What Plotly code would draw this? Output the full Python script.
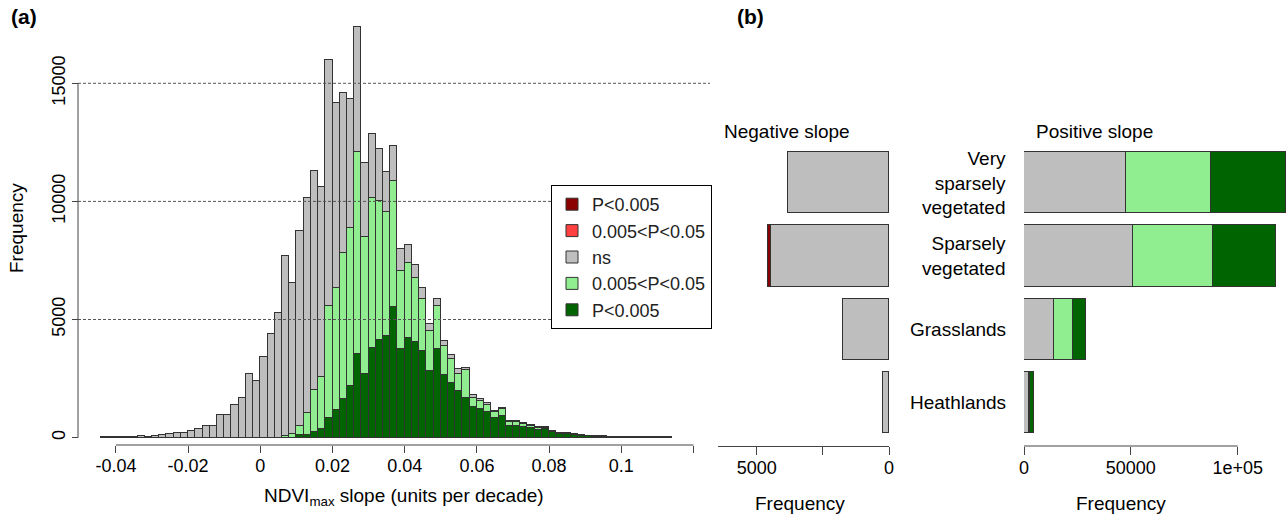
import plotly.graph_objects as go

# ---------------- data ----------------
# Panel (a): histogram of NDVImax slope, bins of 0.002 starting at -0.044
bin_start = -0.044
bin_width = 0.002
hist_ns = [15, 20, 30, 25, 40, 70, 35, 56, 100, 140, 185, 185, 280, 370, 480, 480,
           945, 945, 1380, 1665, 2680, 2410, 3415, 4400, 5265, 7634, 6392, 8254, 9101,
           9270, 8043, 10413, 7831, 6773, 5489, 5291, 3132, 2737, 2201, 1693, 1482, 917,
           776, 536, 466, 296, 310, 226, 169, 198, 71, 141, 85, 71, 71, 28, 42, 42, 28,
           28, 14, 14, 14, 14, 14, 14, 14, 7, 7, 5, 3, 2, 2, 1, 1, 1, 2, 1, 0]
hist_light = [0] * 25 + [70, 141, 395, 917, 1764, 2201, 4741, 5150, 6194, 6660, 8565,
              5785, 6350, 5898, 5221, 5362, 3316, 3147, 2709, 2201, 1679, 1820, 1213,
              1030, 705, 1199, 381, 353, 310, 254, 282, 155, 141, 113, 99, 99, 71, 42, 28,
              28, 28, 14, 14, 7, 7, 5, 4, 3, 2, 2, 1, 1, 2, 1, 1]
hist_dark = [0] * 27 + [113, 113, 254, 353, 847, 1171, 1637, 2201, 3542, 2695, 3781,
             4120, 4318, 5517, 3753, 4233, 4064, 3669, 2836, 3753, 2653, 2300, 1990,
             1665, 1284, 1199, 1072, 818, 931, 494, 508, 466, 395, 325, 353, 226, 169,
             141, 113, 85, 56, 42, 45, 35, 28, 22, 18, 15, 12, 10, 25, 8, 6]
x_ticks = [-0.04, -0.02, 0, 0.02, 0.04, 0.06, 0.08, 0.1]
x_ticktext = ["-0.04", "-0.02", "0", "0.02", "0.04", "0.06", "0.08", "0.1"]
x_unlabeled_ticks = [0.12]
y_ticks = [0, 5000, 10000, 15000]
y_ticktext = ["0", "5000", "10000", "15000"]
grid_levels = [5000, 10000, 15000]

# Panel (b): land-cover classes (bottom to top)
classes = ["Heathlands", "Grasslands", "Sparsely<br>vegetated", "Very<br>sparsely<br>vegetated"]
neg_ns = [215, 1726, 4461, 3827]
neg_red = [0, 0, 0, 0]
neg_darkred = [0, 0, 110, 0]
pos_ns = [2180, 14200, 50860, 47730]
pos_light = [780, 8740, 37430, 39640]
pos_dark = [1870, 5930, 29640, 35100]
neg_ticks = [0, 5000]
neg_ticktext = ["0", "5000"]
neg_unlabeled_ticks = [2500]
pos_ticks = [0, 50000, 100000]
pos_ticktext = ["0", "50000", "1e+05"]

labels = {"darkred": "P&lt;0.005", "red": "0.005&lt;P&lt;0.05", "ns": "ns",
          "light": "0.005&lt;P&lt;0.05", "dark": "P&lt;0.005"}
colors = {"darkred": "#8B0000", "red": "#FF4040", "ns": "#BEBEBE",
          "light": "#90EE90", "dark": "#006400"}

# ---------------- layout helpers ----------------
W, H = 1287, 517
FONT = "Liberation Sans, Arial, sans-serif"
EDGE = dict(color="#333333", width=1)


def fx(p):
    return p / W


def fy(p):
    return 1 - p / H


centers = [bin_start + (i + 0.5) * bin_width for i in range(len(hist_ns))]

fig = go.Figure()

# Panel (a) stacked histogram
for key, vals in (("dark", hist_dark), ("light", hist_light), ("ns", hist_ns)):
    fig.add_trace(go.Bar(x=centers, y=vals, width=bin_width, xaxis="x", yaxis="y",
                         marker=dict(color=colors[key], line=EDGE),
                         name=labels[key], legendrank={"dark": 5, "light": 4, "ns": 3}[key],
                         showlegend=True, hoverinfo="x+y"))

# Panel (b) negative slopes
ypos = list(range(len(classes)))
bw = 1 / 1.2
for key, vals in (("ns", neg_ns), ("red", neg_red), ("darkred", neg_darkred)):
    fig.add_trace(go.Bar(x=vals, y=ypos, orientation="h", width=bw, xaxis="x2", yaxis="y2",
                         marker=dict(color=colors[key], line=EDGE), cliponaxis=False,
                         name=labels[key], legendrank={"ns": 3, "red": 2, "darkred": 1}[key],
                         showlegend=(key != "ns")))

# Panel (b) positive slopes
for key, vals in (("ns", pos_ns), ("light", pos_light), ("dark", pos_dark)):
    fig.add_trace(go.Bar(x=vals, y=ypos, orientation="h", width=bw, xaxis="x3", yaxis="y3",
                         marker=dict(color=colors[key], line=EDGE), cliponaxis=False,
                         name=labels[key], showlegend=False))

# pixel mappings
a_x0, a_scale = 260.3, 3610.0        # px of x=0, px per unit
a_y0, a_yscale = 437.6, 0.02362      # px of y=0, px per count
a_left, a_right, a_top, a_bottom = 95, 710, 10, 445

b_top, b_bottom = 140, 446
b_c0, b_step = 402.8, 73.43
n_left, n_right, n_zero, n_scale = 718, 889, 889, 0.02647
p_left, p_right, p_zero, p_scale = 1024, 1287, 1024, 0.002137

tickfont = dict(family=FONT, size=18, color="black")

fig.update_layout(
    width=W, height=H, margin=dict(l=0, r=0, t=0, b=0),
    paper_bgcolor="white", plot_bgcolor="white",
    barmode="stack", bargap=0,
    font=dict(family=FONT, size=18, color="black"),
    xaxis=dict(domain=[fx(a_left), fx(a_right)],
               range=[(a_left - a_x0) / a_scale, (a_right - a_x0) / a_scale],
               tickvals=x_ticks, ticktext=x_ticktext, ticks="outside", ticklen=7,
               tickcolor="#444", showgrid=False, zeroline=False, showline=False,
               minor=dict(tickvals=x_unlabeled_ticks, ticks="outside", ticklen=7,
                          tickcolor="#444", showgrid=False),
               tickfont=tickfont, anchor="y", ticklabelstandoff=-3, automargin=False),
    yaxis=dict(domain=[fy(a_bottom), fy(a_top)],
               range=[-(a_bottom - a_y0) / a_yscale, (a_y0 - a_top) / a_yscale],
               tickvals=y_ticks, ticktext=y_ticktext, ticks="outside", ticklen=6,
               tickcolor="#444", tickangle=-90, showgrid=False, zeroline=False,
               showline=False, tickfont=tickfont, anchor="free", position=fx(78),
               automargin=False),
    xaxis2=dict(domain=[fx(n_left), fx(n_right)],
                range=[(n_zero - n_left) / n_scale, (n_zero - n_right) / n_scale],
                tickvals=neg_ticks, ticktext=neg_ticktext, ticks="outside", ticklen=8,
                tickcolor="#444", showline=True, linecolor="#444", linewidth=1,
                minor=dict(tickvals=neg_unlabeled_ticks, ticks="outside", ticklen=8,
                           tickcolor="#444", showgrid=False),
                showgrid=False, zeroline=False, tickfont=tickfont, anchor="y2",
                ticklabelstandoff=-3, automargin=False),
    yaxis2=dict(domain=[fy(b_bottom), fy(b_top)],
                range=[-(b_bottom - b_c0) / b_step, (b_c0 - b_top) / b_step],
                visible=False, anchor="x2"),
    xaxis3=dict(domain=[fx(p_left), fx(p_right)],
                range=[(p_left - p_zero) / p_scale, (p_right - p_zero) / p_scale],
                tickvals=pos_ticks, ticktext=pos_ticktext, ticks="outside", ticklen=8,
                tickcolor="#444", showline=False, showgrid=False, zeroline=False,
                tickfont=tickfont, anchor="y3", ticklabelstandoff=-3, automargin=False),
    yaxis3=dict(domain=[fy(b_bottom), fy(b_top)],
                range=[-(b_bottom - b_c0) / b_step, (b_c0 - b_top) / b_step],
                visible=False, anchor="x3"),
    legend=dict(x=fx(551), y=fy(185), xanchor="left", yanchor="top",
                bgcolor="white", bordercolor="black", borderwidth=1,
                font=dict(family=FONT, size=18, color="#222"), traceorder="normal",
                tracegroupgap=0, itemclick=False),
    showlegend=True,
)

shapes = []
# dashed reference lines in panel (a)
for lv in grid_levels:
    shapes.append(dict(type="line", xref="paper", yref="y", x0=fx(78), x1=fx(a_right),
                       y0=lv, y1=lv, layer="above",
                       line=dict(color="#555", width=1, dash="3px,2px")))
# axis lines spanning first to last tick (R style)
shapes.append(dict(type="line", xref="x", yref="paper", x0=min(x_ticks),
                   x1=max(x_unlabeled_ticks),
                   y0=fy(a_bottom), y1=fy(a_bottom), line=dict(color="#444", width=1)))
shapes.append(dict(type="line", xref="paper", yref="y", x0=fx(78), x1=fx(78),
                   y0=min(y_ticks), y1=max(y_ticks), line=dict(color="#444", width=1)))
shapes.append(dict(type="line", xref="x3", yref="paper", x0=min(pos_ticks), x1=max(pos_ticks),
                   y0=fy(b_bottom), y1=fy(b_bottom), line=dict(color="#444", width=1)))
fig.update_layout(shapes=shapes)

ann = []
ann.append(dict(text="<b>(a)</b>", x=fx(9), y=fy(17), xref="paper", yref="paper",
                xanchor="left", yanchor="middle", showarrow=False,
                font=dict(family=FONT, size=21, color="black")))
ann.append(dict(text="<b>(b)</b>", x=fx(735), y=fy(17), xref="paper", yref="paper",
                xanchor="left", yanchor="middle", showarrow=False,
                font=dict(family=FONT, size=21, color="black")))
ann.append(dict(text="NDVI<sub>max</sub> slope (units per decade)", x=fx(404), y=fy(497),
                xref="paper", yref="paper", xanchor="center", yanchor="middle",
                showarrow=False, font=dict(family=FONT, size=19, color="black")))
ann.append(dict(text="Frequency", x=fx(16), y=fy(228), xref="paper", yref="paper",
                xanchor="center", yanchor="middle", textangle=-90, showarrow=False,
                font=dict(family=FONT, size=19, color="black")))
ann.append(dict(text="Negative slope", x=fx(722), y=fy(131), xref="paper", yref="paper",
                xanchor="left", yanchor="middle", showarrow=False,
                font=dict(family=FONT, size=19, color="black")))
ann.append(dict(text="Positive slope", x=fx(1034), y=fy(131), xref="paper", yref="paper",
                xanchor="left", yanchor="middle", showarrow=False,
                font=dict(family=FONT, size=19, color="black")))
ann.append(dict(text="Frequency", x=fx(800), y=fy(503), xref="paper", yref="paper",
                xanchor="center", yanchor="middle", showarrow=False,
                font=dict(family=FONT, size=19, color="black")))
ann.append(dict(text="Frequency", x=fx(1121), y=fy(503), xref="paper", yref="paper",
                xanchor="center", yanchor="middle", showarrow=False,
                font=dict(family=FONT, size=19, color="black")))
for i, name in enumerate(classes):
    ann.append(dict(text=name, x=fx(1008), y=ypos[i], xref="paper", yref="y3",
                    xanchor="right", yanchor="middle", align="right", showarrow=False,
                    font=dict(family=FONT, size=19, color="black")))
fig.update_layout(annotations=ann)

fig.write_html("out.html", config={"displayModeBar": False},
               post_script="document.body.style.margin='0px';document.body.style.padding='0px';")
